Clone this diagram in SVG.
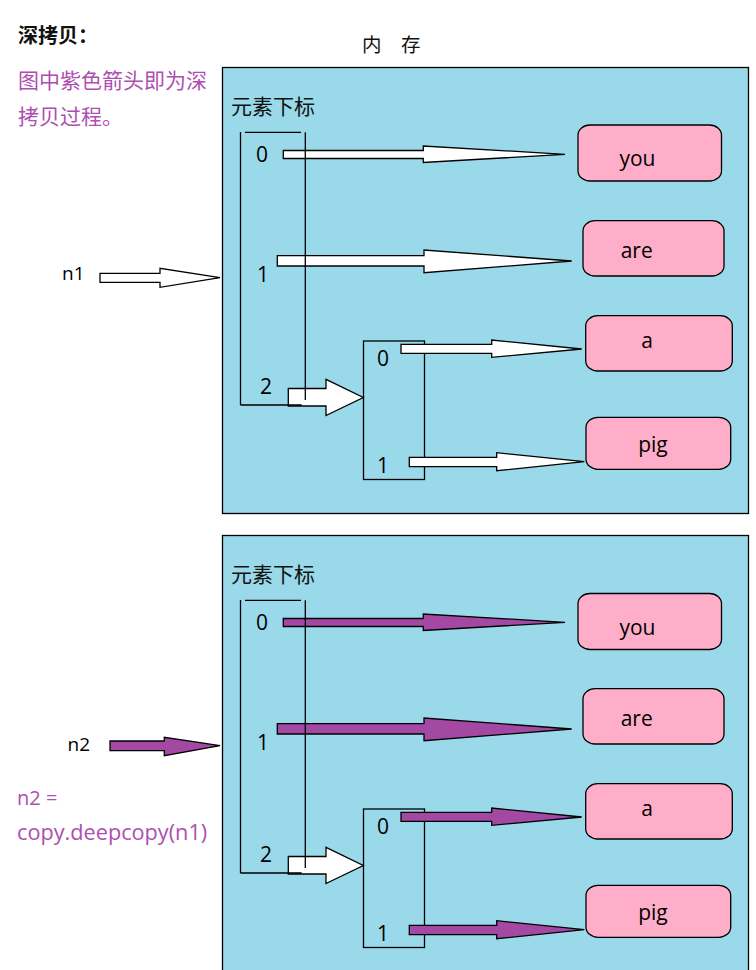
<svg xmlns="http://www.w3.org/2000/svg" width="756" height="970" viewBox="0 0 756 970">
<style>
.panel{fill:#99d9ea;stroke:#000;stroke-width:1.3}
.box{fill:#ffaec9;stroke:#000;stroke-width:1.3}
.ln{fill:none;stroke:#000;stroke-width:1.3}
.aw{fill:#fff;stroke:#000;stroke-width:1.3}
.ap{fill:#a349a4;stroke:#000;stroke-width:1.3}
.t{font-family:"Open Sans","Noto Sans CJK SC",sans-serif;fill:#000}
.cn{font-family:"Noto Sans CJK SC",sans-serif;fill:#111}
.lbl{font-size:21px;text-anchor:middle}
.idx{font-size:21px;text-anchor:middle}
.pur{fill:#ad4fb1}
</style>

<g id="title">
<text class="cn" x="18" y="43" font-size="20" font-weight="bold">深拷贝：</text>
<text class="cn pur" x="18" y="88" font-size="21">图中紫色箭头即为深</text>
<text class="cn pur" x="18" y="124" font-size="21">拷贝过程。</text>
<text class="cn" x="362 381 401" y="51.5" font-size="19.5" xml:space="preserve">内 存</text>
</g>

<g id="panel1"><rect class="panel" x="222.5" y="67.5" width="526" height="446"/></g>
<g id="panel2"><rect class="panel" x="222.5" y="535.5" width="526" height="445"/></g>

<g id="sub1"><rect class="ln" x="363.5" y="341" width="61" height="138.5"/></g>
<g id="sub2"><rect class="ln" x="363.5" y="809" width="61" height="138.5"/></g>

<g id="you1"><rect class="box" x="578" y="125" width="143.5" height="56" rx="12" ry="10"/><text class="t lbl" x="637.5" y="166">you</text></g>
<g id="are1"><rect class="box" x="583" y="220.7" width="141" height="55.3" rx="12" ry="10"/><text class="t lbl" x="636.7" y="257.7">are</text></g>
<g id="a1"><rect class="box" x="585.7" y="315.7" width="146.6" height="55.3" rx="12" ry="10"/><text class="t lbl" x="647" y="347.7">a</text></g>
<g id="pig1"><rect class="box" x="586" y="417.3" width="144.7" height="52" rx="12" ry="10"/><text class="t lbl" x="653" y="452">pig</text></g>

<g id="you2"><rect class="box" x="578" y="593.5" width="143.5" height="56" rx="12" ry="10"/><text class="t lbl" x="637.5" y="634.5">you</text></g>
<g id="are2"><rect class="box" x="583" y="688.7" width="141" height="55.3" rx="12" ry="10"/><text class="t lbl" x="636.7" y="725.7">are</text></g>
<g id="a2"><rect class="box" x="585.7" y="783.7" width="146.6" height="55.3" rx="12" ry="10"/><text class="t lbl" x="647" y="815.7">a</text></g>
<g id="pig2"><rect class="box" x="586" y="885.3" width="144.7" height="52" rx="12" ry="10"/><text class="t lbl" x="653" y="920">pig</text></g>

<g id="connectors">
<polygon class="aw" points="100,273.3 160,273.3 160,268.3 220,277.7 160,287.3 160,282.3 100,282.3"/>
<polygon class="aw" points="283.3,150.5 423.3,150.5 423.3,146 565,154.3 423.3,162.5 423.3,158.5 283.3,158.5"/>
<polygon class="aw" points="277.3,255.7 424,255.7 424,250 571.7,261 424,272.7 424,266 277.3,266"/>
<polygon class="aw" points="288.3,388.5 326,388.5 326,379.3 363.3,397.5 326,415.5 326,406 288.3,406"/>
<polygon class="aw" points="401,344.3 491.7,344.3 491.7,340 581.7,349 491.7,357.3 491.7,353.3 401,353.3"/>
<polygon class="aw" points="409.3,457.3 496.7,457.3 496.7,452.7 584.3,461.7 496.7,470.7 496.7,466.7 409.3,466.7"/>

<polygon class="ap" points="110,741 164.3,741 164.3,737.3 220,745.7 164.3,755.7 164.3,750.7 110,750.7"/>
<polygon class="ap" points="283.3,618.5 423.3,618.5 423.3,614 565,622.3 423.3,630.5 423.3,626.5 283.3,626.5"/>
<polygon class="ap" points="277.3,723.7 424,723.7 424,718 571.7,729 424,740.7 424,734 277.3,734"/>
<polygon class="aw" points="288.3,856.5 326,856.5 326,847.3 363.3,865.5 326,883.5 326,874 288.3,874"/>
<polygon class="ap" points="401,812.3 491.7,812.3 491.7,808 581.7,817 491.7,825.3 491.7,821.3 401,821.3"/>
<polygon class="ap" points="409.3,925.3 496.7,925.3 496.7,920.7 584.3,929.7 496.7,938.7 496.7,934.7 409.3,934.7"/>
</g>

<g id="list1">
<text class="cn" x="231" y="114" font-size="21">元素下标</text>
<path class="ln" d="M240.5,132 V405 M245,132.3 H301 M305.3,132.3 V400 M240.5,405 H301.7"/>
<text class="t idx" x="262" y="162">0</text>
<text class="t idx" x="263" y="282">1</text>
<text class="t idx" x="266" y="394">2</text>
<text class="t idx" x="383" y="365.7">0</text>
<text class="t idx" x="383" y="472.7">1</text>
</g>

<g id="list2">
<text class="cn" x="231" y="582" font-size="21">元素下标</text>
<path class="ln" d="M240.5,600 V873 M245,600.3 H301 M305.3,600.3 V868 M240.5,873 H301.7"/>
<text class="t idx" x="262" y="630">0</text>
<text class="t idx" x="263" y="750">1</text>
<text class="t idx" x="266" y="862">2</text>
<text class="t idx" x="383" y="833.7">0</text>
<text class="t idx" x="383" y="940.7">1</text>
</g>

<g id="n1"><text class="t" x="62" y="280" font-size="19">n1</text></g>
<g id="n2"><text class="t" x="67.5" y="751" font-size="19">n2</text></g>
<g id="code">
<text class="t pur" x="17" y="805" font-size="20">n2 =</text>
<text class="t pur" x="17" y="840" font-size="21.7">copy.deepcopy(n1)</text>
</g>
</svg>
